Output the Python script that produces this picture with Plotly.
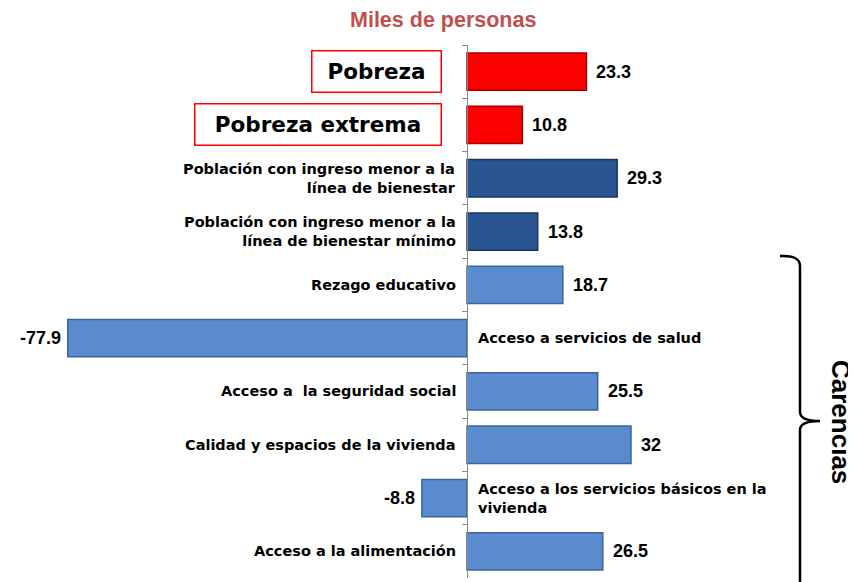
import plotly.graph_objects as go

categories = ["Pobreza", "Pobreza extrema", "Ingreso bienestar", "Ingreso bienestar mínimo",
              "Rezago educativo", "Salud", "Seguridad social", "Vivienda", "Servicios básicos",
              "Alimentación"]
display_labels = ["Pobreza", "Pobreza extrema",
                  "Población con ingreso menor a la<br>línea de bienestar",
                  "Población con ingreso menor a la<br>línea de bienestar mínimo",
                  "Rezago educativo",
                  "Acceso a servicios de salud",
                  "Acceso a  la seguridad social",
                  "Calidad y espacios de la vivienda",
                  "Acceso a los servicios básicos en la<br>vivienda",
                  "Acceso a la alimentación"]
values = [23.3, 10.8, 29.3, 13.8, 18.7, -77.9, 25.5, 32, -8.8, 26.5]
value_text = ["23.3", "10.8", "29.3", "13.8", "18.7", "-77.9", "25.5", "32", "-8.8", "26.5"]
groups = ["pobreza", "pobreza", "ingreso", "ingreso", "carencia", "carencia", "carencia",
          "carencia", "carencia", "carencia"]

fill = {"pobreza": "#FF0000", "ingreso": "#2A5592", "carencia": "#5A8BCF"}
edge = {"pobreza": "#A00000", "ingreso": "#17375E", "carencia": "#3A659A"}

# page body has an 8px margin; figure coordinates are offset accordingly
OFF = 8
W, H = 856, 582
TOP, BOT = 45 - OFF, 578 - OFF
X0 = 467 - OFF          # pixel of zero in figure coords
SCALE = 5.125           # px per unit
xmin = -X0 / SCALE
xmax = (W - X0) / SCALE
zero_frac = -xmin / (xmax - xmin)

def px(x):
    return (x - OFF) / W

def py(y):
    return (BOT - (y - OFF)) / (BOT - TOP)

fig = go.Figure()
fig.add_trace(go.Bar(
    y=categories, x=values, orientation="h", width=0.7,
    marker=dict(color=[fill[g] for g in groups],
                line=dict(color=[edge[g] for g in groups], width=1.5)),
    hoverinfo="skip", showlegend=False,
))

ann = []
label_font = dict(family="DejaVu Sans", size=14.5, color="black")
for cat, lab, v, vt in zip(categories, display_labels, values, value_text):
    ann.append(dict(x=v, y=cat, xref="x", yref="y", text="<b>%s</b>" % vt, showarrow=False,
                    xanchor="left" if v >= 0 else "right", xshift=8 if v >= 0 else -5,
                    yanchor="middle",
                    font=dict(family="Liberation Sans", size=18, color="black")))
    if cat in ("Pobreza", "Pobreza extrema"):
        w = 126 if cat == "Pobreza" else 243
        ann.append(dict(x=0, y=cat, xref="x", yref="y", text="<b>%s</b>" % lab, showarrow=False,
                        xanchor="right", xshift=-25, yanchor="middle", width=w, height=38,
                        align="center", bordercolor="#FF0000", borderwidth=1.5, borderpad=1,
                        font=dict(family="DejaVu Sans", size=21.5, color="black")))
    elif v >= 0:
        ann.append(dict(x=0, y=cat, xref="x", yref="y", text="<b>%s</b>" % lab, showarrow=False,
                        xanchor="right", xshift=-9, yanchor="middle", align="right",
                        font=label_font))
    else:
        ann.append(dict(x=0, y=cat, xref="x", yref="y", text="<b>%s</b>" % lab, showarrow=False,
                        xanchor="left", xshift=9, yanchor="middle", align="left",
                        font=label_font))

ann.append(dict(x=px(443), y=py(20), xref="paper", yref="paper", text="<b>Miles de personas</b>",
                showarrow=False, xanchor="center", yanchor="middle",
                font=dict(family="Liberation Sans", size=21.5, color="#C0504D")))
ann.append(dict(x=px(841), y=py(422), xref="paper", yref="paper", text="<b>Carencias</b>",
                showarrow=False, textangle=90, xanchor="center", yanchor="middle",
                font=dict(family="Liberation Sans", size=26, color="black")))

def P(x, y):
    return "%.5f,%.5f" % (px(x), py(y))

bracket = ("M " + P(780, 256) + " Q " + P(800, 255) + " " + P(800, 266) +
           " L " + P(800, 412) + " Q " + P(800, 421) + " " + P(820, 421) +
           " Q " + P(800, 421) + " " + P(800, 430) + " L " + P(800, 595))

fig.update_layout(
    width=W, height=H,
    margin=dict(l=0, r=0, t=TOP, b=H - BOT),
    plot_bgcolor="white", paper_bgcolor="white",
    xaxis=dict(range=[xmin, xmax], visible=False, zeroline=False, domain=[0, 1]),
    yaxis=dict(categoryorder="array", categoryarray=categories, autorange="reversed",
               anchor="free", position=zero_frac, showline=True, linecolor="#888888",
               linewidth=1, ticks="outside", tickson="boundaries", ticklen=5,
               tickcolor="#888888", showticklabels=False, showgrid=False, zeroline=False),
    annotations=ann,
    shapes=[dict(type="path", path=bracket, xref="paper", yref="paper",
                 line=dict(color="black", width=2.5))],
    bargap=0.3,
)

fig.write_html("out.html")
